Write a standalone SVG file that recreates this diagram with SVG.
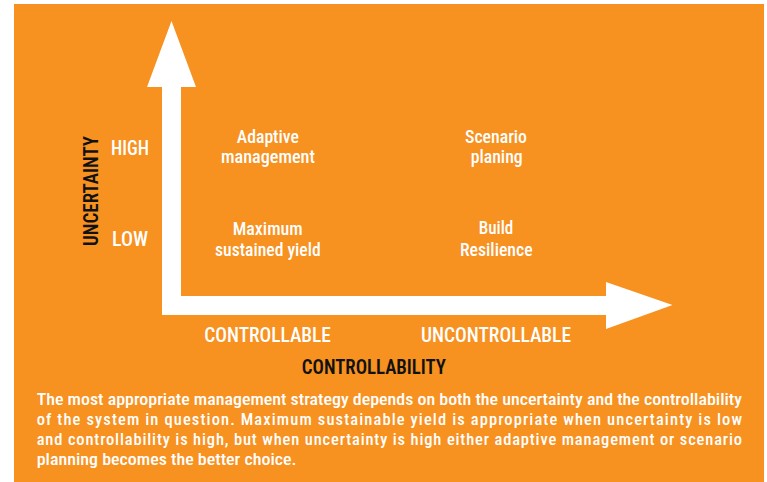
<svg xmlns="http://www.w3.org/2000/svg" width="767" height="482" viewBox="0 0 767 482">
<style>
text{font-family:"Liberation Sans Narrow","Roboto Condensed","DejaVu Sans Condensed","Liberation Sans",Arial,sans-serif;font-weight:500;}
.w{fill:#ffffff;}
.k{fill:#111111;font-weight:600;}
.q{font-size:18.5px;text-anchor:middle;}
.lv{font-size:20px;}
.ax{font-size:20px;text-anchor:middle;}
.p{font-size:16.5px;fill:#ffffff;}
</style>
<rect x="14" y="4" width="750" height="478" fill="#F7911F"/>
<g id="connectors">
<polygon fill="#ffffff" points="171.5,21 196,87 181,87 181,296 606,296 606,282 672.5,305 606,329 606,315 162,315 162,87 147,87"/>
</g>
<g id="axis-y-label">
<text class="k" font-size="21" text-anchor="middle" transform="translate(97.5,191) rotate(-90)" textLength="110" lengthAdjust="spacingAndGlyphs">UNCERTAINTY</text>
</g>
<g id="level-high"><text class="w lv" x="111" y="154.5" textLength="38" lengthAdjust="spacingAndGlyphs">HIGH</text></g>
<g id="level-low"><text class="w lv" x="112" y="245.7" textLength="36" lengthAdjust="spacingAndGlyphs">LOW</text></g>
<g id="node-adaptive">
<text class="w q" x="267.8" y="142.7" textLength="62" lengthAdjust="spacingAndGlyphs">Adaptive</text>
<text class="w q" x="268" y="163.3" textLength="94" lengthAdjust="spacingAndGlyphs">management</text>
</g>
<g id="node-scenario">
<text class="w q" x="496" y="142.7" textLength="62" lengthAdjust="spacingAndGlyphs">Scenario</text>
<text class="w q" x="496.7" y="163.3" textLength="52" lengthAdjust="spacingAndGlyphs">planing</text>
</g>
<g id="node-msy">
<text class="w q" x="267.7" y="235" textLength="70" lengthAdjust="spacingAndGlyphs">Maximum</text>
<text class="w q" x="267.9" y="255.7" textLength="105.7" lengthAdjust="spacingAndGlyphs">sustained yield</text>
</g>
<g id="node-resilience">
<text class="w q" x="496" y="234.3" textLength="34.6" lengthAdjust="spacingAndGlyphs">Build</text>
<text class="w q" x="496.3" y="255.7" textLength="72.7" lengthAdjust="spacingAndGlyphs">Resilience</text>
</g>
<g id="level-controllable"><text class="w ax" x="267.6" y="341.7" textLength="126.7" lengthAdjust="spacingAndGlyphs">CONTROLLABLE</text></g>
<g id="level-uncontrollable"><text class="w ax" x="496" y="341.7" textLength="150" lengthAdjust="spacingAndGlyphs">UNCONTROLLABLE</text></g>
<g id="axis-x-label"><text class="k" font-size="21" text-anchor="middle" x="373.9" y="373.5" textLength="144.2" lengthAdjust="spacingAndGlyphs">CONTROLLABILITY</text></g>
<g id="caption">
<text class="p" x="36.7" y="405" textLength="705.3" lengthAdjust="spacingAndGlyphs">The most appropriate management strategy depends on both the uncertainty and the controllability</text>
<text class="p" x="36.7" y="425" textLength="705.3" lengthAdjust="spacing">of the system in question. Maximum sustainable yield is appropriate when uncertainty is low</text>
<text class="p" x="36.7" y="445" textLength="705.3" lengthAdjust="spacing">and controllability is high, but when uncertainty is high either adaptive management or scenario</text>
<text class="p" x="36.7" y="465" textLength="259.9" lengthAdjust="spacingAndGlyphs">planning becomes the better choice.</text>
</g>
</svg>
